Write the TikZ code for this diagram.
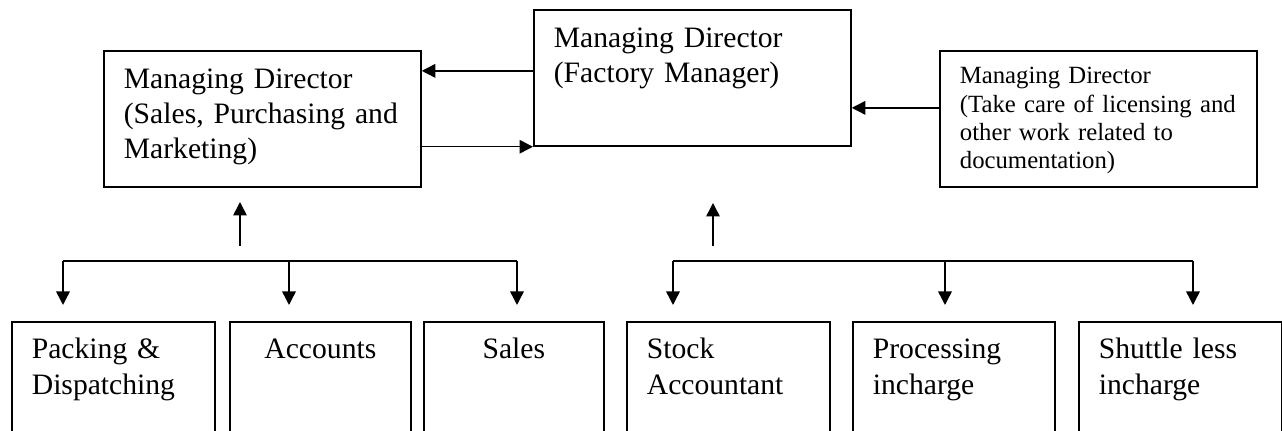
\documentclass[tikz,border=0pt]{standalone}
\usepackage{fontspec}
\setmainfont{Liberation Serif}
\usetikzlibrary{arrows.meta}

\begin{document}
\begin{tikzpicture}[
  x=0.4pt, y=-0.4pt, font=\fontsize{11.85}{14}\selectfont, >={Triangle[length=5.4pt,width=5.4pt]}, line width=0.6pt,
  box/.style={draw, line width=0.7pt, anchor=north west, align=left, inner xsep=8pt, inner ysep=0pt,
              text width=110.8pt, text height=15.2pt, text depth=39.2pt},
  small/.style={box, font=\fontsize{9.9}{11.3}\selectfont, text height=13.2pt, text depth=41.2pt},
  unit/.style={box, font=\fontsize{11.85}{14.4}\selectfont, text height=14.8pt, text depth=34.8pt},
  arr/.style={->}]
\useasboundingbox (0,0) rectangle (1282,431);
% ---------- directors
\node[box] (smd) at (103,50) {\mbox{Managing Director}\\\mbox{(Sales, Purchasing and}\\Marketing)};
\node[box] (fmd) at (533,9) {\mbox{Managing Director}\\\mbox{(Factory Manager)}};
\node[small] (dmd) at (939,50) {\mbox{Managing Director}\\\mbox{(Take care of licensing and}\\\mbox{other work related to}\\documentation)};
% ---------- departments
\node[unit, text width=65.2pt] (pack) at (11,321) {Packing \&\\Dispatching};
\node[unit, text width=56.4pt, align=center] (acct) at (229,321) {Accounts};
\node[unit, text width=56pt, align=center] (sales) at (423,321) {Sales};
\node[unit, text width=65.2pt] (stock) at (626,321) {Stock\\Accountant};
\node[unit, text width=64.8pt] (proc) at (852,321) {Processing\\incharge};
\node[unit, text width=65.2pt] (shut) at (1078,321) {\mbox{Shuttle less}\\incharge};
% ---------- edges between directors
\draw[arr] ([yshift=2.8pt]fmd.west) -- ([yshift=2.8pt]fmd.west -| smd.east);
\draw[arr] (smd.east |- fmd.south west) -- (fmd.south west);
\draw[arr] ([yshift=4.4pt]dmd.west) -- ([yshift=4.4pt]dmd.west -| fmd.east);
% ---------- reporting lines
\coordinate (lup) at (240,246);
\coordinate (ltop) at (240,202);
\coordinate (rup) at (713,246);
\coordinate (rtop) at (713,203);
\draw[arr] (lup) -- (ltop);
\draw[arr] (rup) -- (rtop);
\coordinate (lb1) at (63,261);
\coordinate (lb2) at (289,261);
\coordinate (lb3) at (517,261);
\coordinate (rb1) at (673,261);
\coordinate (rb2) at (945,261);
\coordinate (rb3) at (1193,261);
\draw (lb1) -- (lb3);
\draw (rb1) -- (rb3);
\foreach \c/\b in {lb1/pack, lb2/acct, lb3/sales, rb1/stock, rb2/proc, rb3/shut}
  \draw[arr, shorten >=6.4pt] (\c) -- (\c |- \b.north);
\end{tikzpicture}
\end{document}
